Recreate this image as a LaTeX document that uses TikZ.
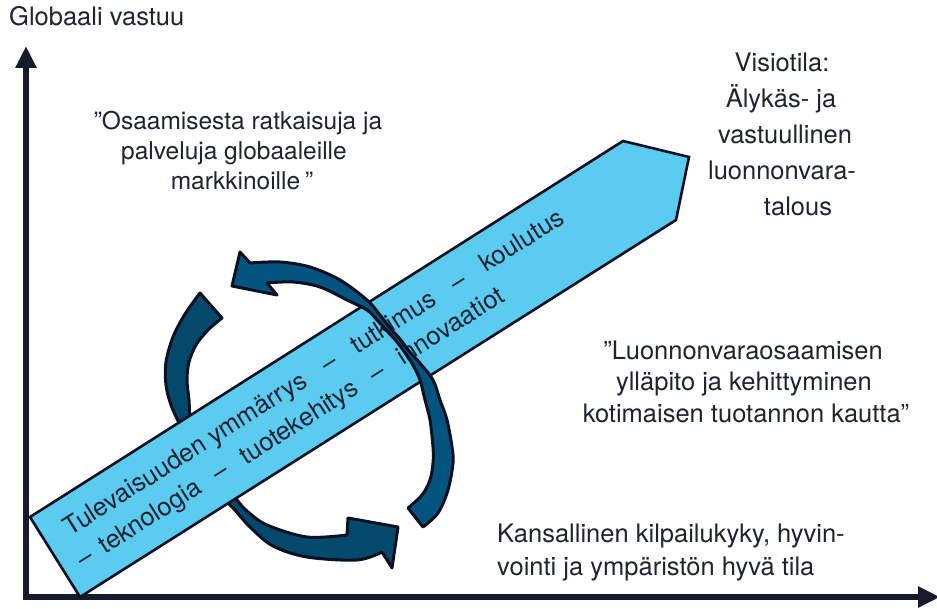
\documentclass[tikz,border=0pt]{standalone}
\usepackage{fontspec}
\setmainfont{TeX Gyre Heros}
\usetikzlibrary{arrows.meta}
\definecolor{axiscol}{HTML}{161B2B}
\definecolor{txt}{HTML}{1E2333}
\definecolor{bannerfill}{HTML}{5BCBF0}
\definecolor{edgecol}{HTML}{0B1120}
\definecolor{arrowA}{HTML}{03547E}
\definecolor{arrowB}{HTML}{02496C}
\newcommand{\bdash}{\hspace{0.85em}–\hspace{0.85em}}
\newcommand{\bdashb}{\hspace{0.72em}–\hspace{0.72em}}
\begin{document}
\begin{tikzpicture}[x=1pt,y=-1pt,
  axis/.style={line width=5.5pt, draw=axiscol, line join=miter,
    {Triangle[length=22pt,width=20pt]}-{Triangle[length=22pt,width=20pt]}},
  ribbon/.style={draw=edgecol, line width=3pt, line join=round},
  bannerstyle/.style={draw=edgecol, fill=bannerfill, line width=2.6pt, line join=miter},
  lbl/.style={inner sep=0pt, text=txt, font=\fontsize{25.5}{30}\selectfont},
  qlbl/.style={lbl, font=\fontsize{24.5}{30}\selectfont},
  bantext/.style={lbl, anchor=base west, rotate=32.35}]
\useasboundingbox (0,0) rectangle (937,609);

% axes
\coordinate (ytip) at (26,46);
\coordinate (origin) at (26,597);
\coordinate (xtip) at (940,597);
\draw[axis] (ytip) -- (origin) -- (xtip);

% back cycle arrow (left / bottom)
\filldraw[ribbon, fill=arrowB] (222,318) -- (200,293)
  -- plot[smooth, tension=0.55] coordinates {(200,293) (185,314) (173,337) (166,362) (166,385) (171,405) (180,425) (198,462) (217,492) (233,508) (250,527) (273,546) (307,557) (357,560) (382,552)}
  -- (392,568) -- (398,527) -- (348,518)
  -- plot[smooth, tension=0.55] coordinates {(347,535) (307,537) (267,525) (247,511) (237,500) (220,478) (202,450) (191,425) (189,400) (187,380) (189,362) (196,345) (208,330) (222,318)}
  -- cycle;

% banner
\coordinate (b1) at (30,517);
\coordinate (b2) at (623,141);
\coordinate (b3) at (689,157);
\coordinate (b4) at (676,220);
\coordinate (b5) at (80,597);
\draw[bannerstyle] (b1) -- (b2) -- (b3) -- (b4) -- (b5) -- cycle;

\node[bantext] (band1) at (70.6,536.3) {Tulevaisuuden ymmärrys\bdash tutkimus\bdash koulutus};
\node[bantext] (band2) at (83.7,568.2) {–\hspace{0.45em}teknologia\bdashb tuotekehitys\bdashb innovaatiot};

% front cycle arrow (right / top)
\filldraw[ribbon, fill=arrowA] (408,508) -- (423,527)
  -- plot[smooth, tension=0.55] coordinates {(423,527) (438,513) (448,490) (453,463) (452,447) (447,420) (440,400) (433,380) (419,362) (409,351) (400,339) (390,328) (380,315) (367,300) (340,280) (310,267) (280,262) (250,263)}
  -- (240,252) -- (232,286) -- (277,295)
  -- plot[smooth, tension=0.55] coordinates {(267,283) (293,282) (320,287) (347,300) (367,310) (377,320) (387,331) (397,342) (406,354) (414,367) (420,380) (425,400) (430,420) (433,447) (433,463) (430,480) (422,495) (408,508)}
  -- cycle;

% texts
\node[lbl, anchor=base west] (ylabel) at (9,26) {Globaali vastuu};

\node[qlbl, anchor=base] (qa1) at (238,130) {”Osaamisesta ratkaisuja ja};
\node[qlbl, anchor=base] (qa2) at (234,160) {palveluja globaaleille};
\node[qlbl, anchor=base] (qa3) at (242,190) {markkinoille\hspace{0.2em}”};

\node[lbl, anchor=base] (v1) at (782,72) {Visiotila:};
\node[lbl, anchor=base] (v2) at (781,108) {Älykäs- ja};
\node[lbl, anchor=base] (v3) at (785,144) {vastuullinen};
\node[lbl, anchor=base] (v4) at (782,180) {luonnonvara-};
\node[lbl, anchor=base] (v5) at (798,216) {talous};

\node[lbl, anchor=base] (qb1) at (743,360) {”Luonnonvaraosaamisen};
\node[lbl, anchor=base] (qb2) at (744,391) {ylläpito ja kehittyminen};
\node[lbl, anchor=base] (qb3) at (746,422) {kotimaisen tuotannon kautta”};

\node[lbl, anchor=base west] (k1) at (497,542) {Kansallinen kilpailukyky, hyvin-};
\node[lbl, anchor=base west] (k2) at (497,575) {vointi ja ympäristön hyvä tila};
\end{tikzpicture}
\end{document}
